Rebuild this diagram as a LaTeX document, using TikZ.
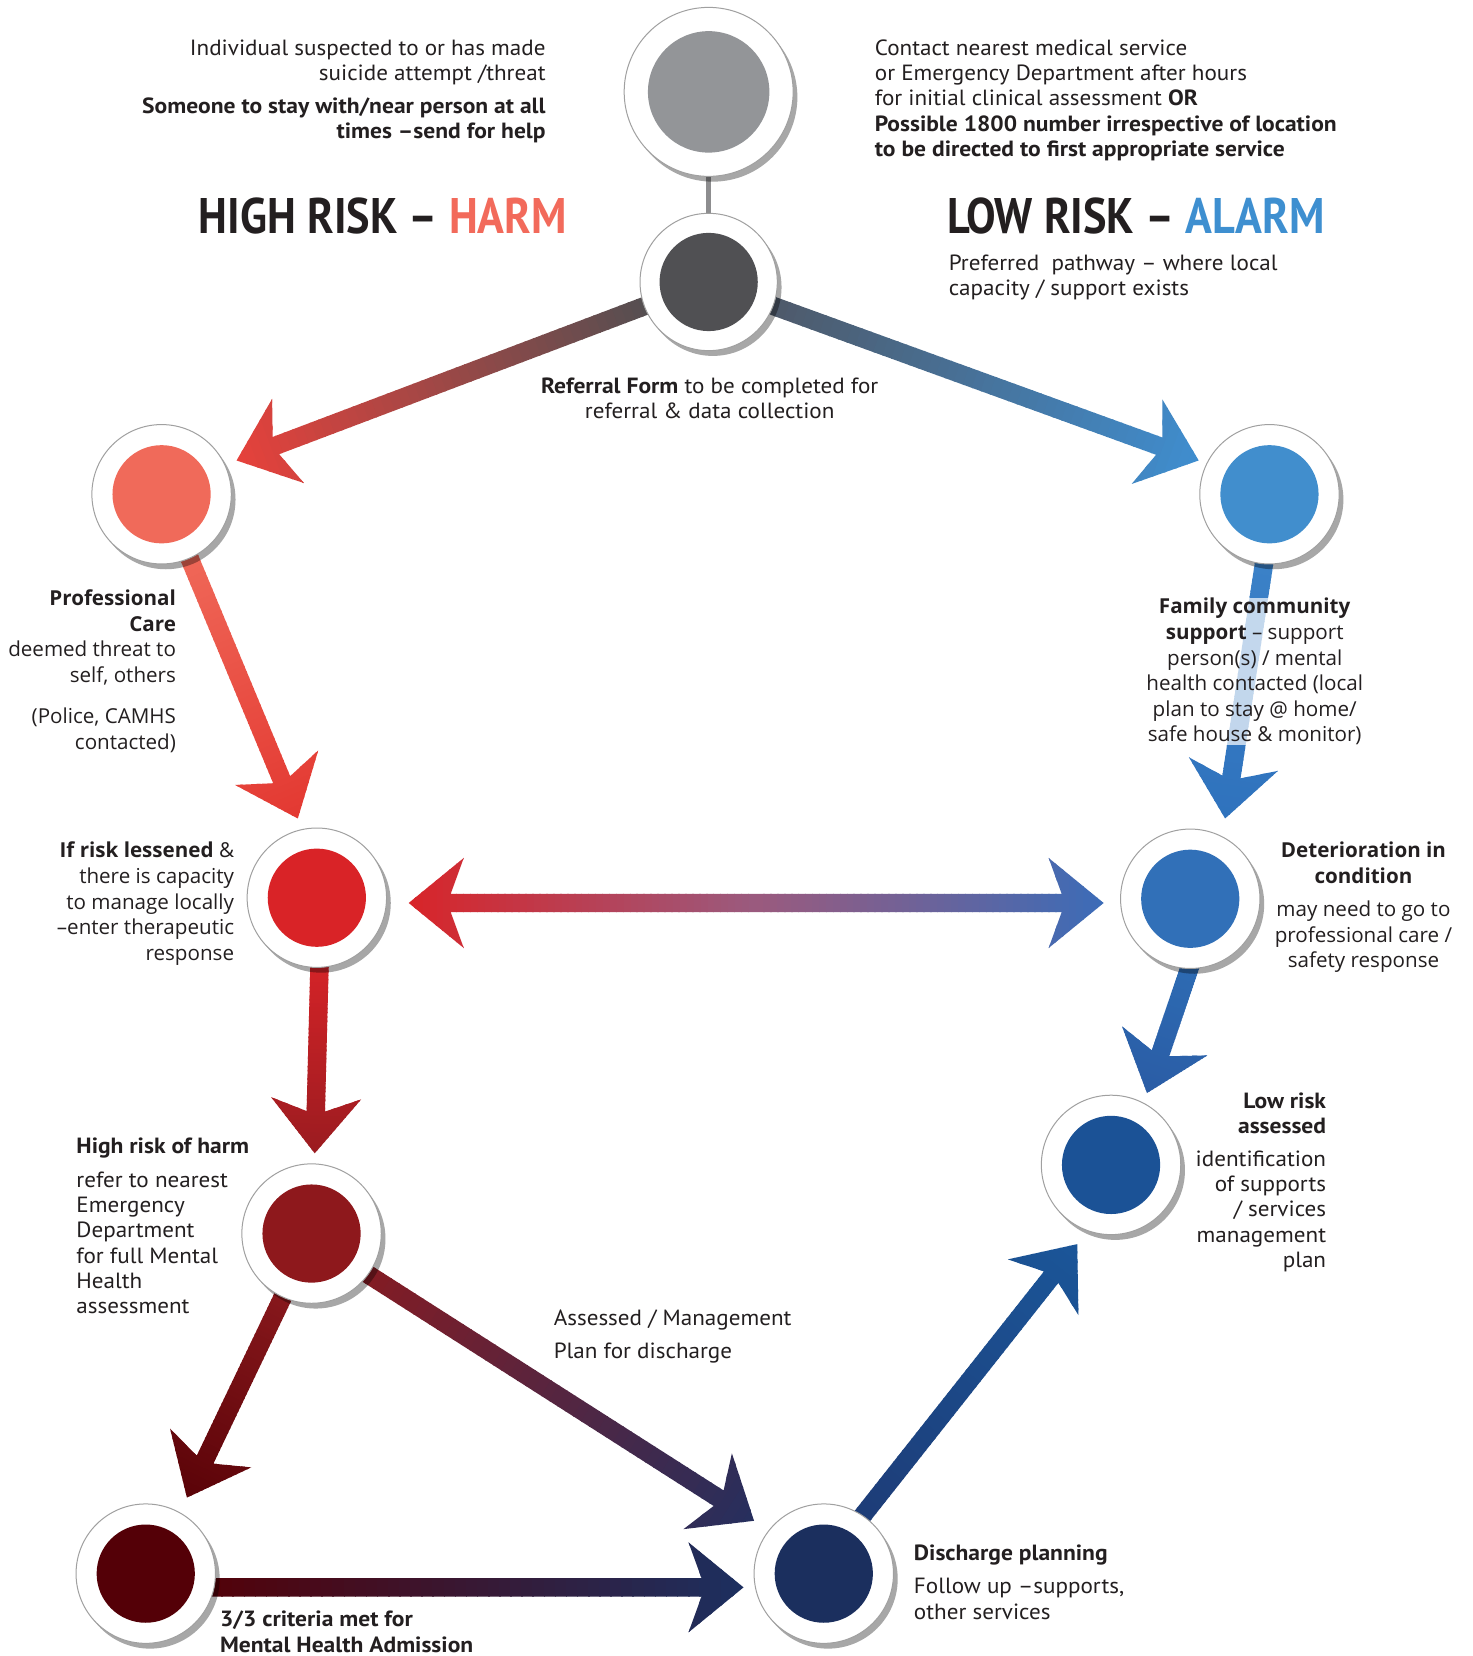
\documentclass[tikz,border=0pt]{standalone}
\usepackage{fontspec}
\setmainfont{PT Sans}
\newfontfamily\myr{PT Sans}[FakeStretch=1.05, BoldFeatures={FakeStretch=1.07}]
\newfontfamily\hdf{PT Sans Bold}[FakeStretch=0.885]
\newfontfamily\wde{Open Sans}
\usetikzlibrary{calc}
\pgfdeclarelayer{bg}
\pgfsetlayers{bg,main}

\definecolor{txt}{HTML}{231F20}
\definecolor{harm}{HTML}{F26A5B}
\definecolor{alarm}{HTML}{3E8FD0}
\definecolor{cTop}{HTML}{939598}
\definecolor{cDark}{HTML}{505053}
\definecolor{cProf}{HTML}{F06A5A}
\definecolor{cFam}{HTML}{418ECD}
\definecolor{cRisk}{HTML}{D92327}
\definecolor{cDet}{HTML}{3170B8}
\definecolor{cHigh}{HTML}{8E181C}
\definecolor{cLow}{HTML}{1B5296}
\definecolor{cAdm}{HTML}{540007}
\definecolor{cDis}{HTML}{1B2F5E}
\definecolor{shad}{HTML}{A7A7A7}
\definecolor{ringe}{HTML}{A0A0A0}
\definecolor{conn}{HTML}{8D8D8F}
% arrow colours
\definecolor{aOneA}{HTML}{4F4F52}\definecolor{aOneB}{HTML}{E8413B}
\definecolor{aTwoA}{HTML}{4F5765}\definecolor{aTwoB}{HTML}{3F8ED0}
\definecolor{aThrA}{HTML}{F06A5A}\definecolor{aThrB}{HTML}{E33831}
\definecolor{aFouA}{HTML}{3C82C8}\definecolor{aFouB}{HTML}{2F72BD}
\definecolor{aFivL}{HTML}{D92428}\definecolor{aFivM}{HTML}{9A5A7E}\definecolor{aFivR}{HTML}{3A6CB8}
\definecolor{aSixA}{HTML}{2E6EB6}\definecolor{aSixB}{HTML}{2A5CA5}
\definecolor{aSevA}{HTML}{D92428}\definecolor{aSevB}{HTML}{9A1B20}
\definecolor{aEigA}{HTML}{8A191D}\definecolor{aEigB}{HTML}{5A0308}
\definecolor{aNinA}{HTML}{861B22}\definecolor{aNinB}{HTML}{252F5E}
\definecolor{aTenA}{HTML}{540007}\definecolor{aTenB}{HTML}{1C3060}
\definecolor{aEleA}{HTML}{1D3B76}\definecolor{aEleB}{HTML}{1B5699}

% arrow geometry (pt)
\def\aw{4.6}   % half shaft width
\def\an{21}    % notch distance from tip
\def\al{27.5}  % barb distance from tip
\def\aW{22.5}  % half head width

% gradient arrow from coordinate #1 to tip coordinate #2, colour #3 -> #4
\newcommand\garrow[4]{%
  \pgfpointdiff{\pgfpointanchor{#1}{center}}{\pgfpointanchor{#2}{center}}%
  \pgfgetlastxy\arrdx\arrdy
  \pgfmathsetmacro\arrang{atan2(\arrdy,\arrdx)}%
  \pgfmathsetmacro\arrlen{veclen(\arrdx,\arrdy)}%
  \begin{scope}[shift={(#1)}, rotate=\arrang, x=1pt, y=1pt]
    \clip (0,-\aw) -- ({\arrlen-\an},-\aw) -- ({\arrlen-\al},-\aW) -- (\arrlen,0)
          -- ({\arrlen-\al},\aW) -- ({\arrlen-\an},\aw) -- (0,\aw) -- cycle;
    \foreach \i in {0,...,49} {%
      \pgfmathtruncatemacro\arrpc{2*\i}%
      \fill[#4!\arrpc!#3] ({\arrlen*\i/50},{-\aW-1}) rectangle ({\arrlen*(\i+1)/50+0.8},{\aW+1});
    }
  \end{scope}
}

% ring node: name, x, y, outer radius, inner radius, colour
\newcommand\ringnode[6]{%
  \fill[shad, blend mode=multiply] (#2+4,#3+5) circle[radius=#4];
  \node[circle, inner sep=0pt, minimum size=2*#4*0.528pt, fill=white, draw=ringe, line width=0.5pt] (#1) at (#2,#3) {};
  \fill[#6] (#1.center) circle[radius=#5];
}

\begin{document}
\begin{tikzpicture}[x=0.528pt, y=-0.528pt,
  mtxt/.style={font=\myr\fontsize{11}{12.67}\selectfont, text=txt, inner sep=0pt},
  wtxt/.style={font=\wde\fontsize{10.3}{12.8}\selectfont, text=txt, inner sep=0pt},
  head/.style={font=\hdf\fontsize{25}{30}\selectfont, text=txt, inner sep=0pt}]
\useasboundingbox (0,0) rectangle (1394,1568);
\clip (0,0) rectangle (1394,1568);

% ---- circles
\ringnode{top}{671}{87}{80}{57.5}{cTop}
\ringnode{dark}{671}{267}{65}{46.5}{cDark}
\ringnode{prof}{153}{468}{66}{46.5}{cProf}
\ringnode{fam}{1202}{468}{66}{46.5}{cFam}
\ringnode{risk}{300}{850}{66}{46.5}{cRisk}
\ringnode{det}{1127}{851}{66}{46.5}{cDet}
\ringnode{high}{295}{1168}{66}{46.5}{cHigh}
\ringnode{low}{1052}{1103}{66}{46.5}{cLow}
\ringnode{adm}{138}{1490}{66}{46.5}{cAdm}
\ringnode{dis}{780}{1490}{66}{46.5}{cDis}

% ---- arrow end points
\coordinate (a1s) at ($(dark)+(-40,15)$);  \coordinate (a1t) at ($(prof)+(71,-32)$);
\coordinate (a2s) at ($(dark)+(40,15)$);   \coordinate (a2t) at ($(fam)+(-67,-32)$);
\coordinate (a3s) at ($(prof)+(20,45)$);   \coordinate (a3t) at ($(risk)+(-18,-75)$);
\coordinate (a4s) at ($(fam)+(-2,45)$);    \coordinate (a4t) at ($(det)+(33,-76)$);
\coordinate (a5l) at ($(risk)+(87,5)$);    \coordinate (a5r) at ($(det)+(-82,4)$);
\coordinate (a5m) at ($(a5l)!0.5!(a5r)$);
\coordinate (a6s) at ($(det)+(8,40)$);     \coordinate (a6t) at ($(low)+(34,-68)$);
\coordinate (a7s) at ($(risk)+(3,45)$);    \coordinate (a7t) at ($(high)+(3,-76)$);
\coordinate (a8s) at ($(high)+(-20,45)$);  \coordinate (a8t) at ($(adm)+(39,-72)$);
\coordinate (a9s) at ($(high)+(40,30)$);   \coordinate (a9t) at ($(dis)+(-66,-50)$);
\coordinate (a10s) at ($(adm)+(40,13)$);   \coordinate (a10t) at ($(dis)+(-76,13)$);
\coordinate (a11s) at ($(dis)+(25,-40)$);  \coordinate (a11t) at ($(low)+(-32,75)$);

\begin{pgfonlayer}{bg}
  \fill[white] (0,0) rectangle (1394,1568);
  \draw[conn, line width=2.6pt] (top) -- (dark);
  \garrow{a1s}{a1t}{aOneA}{aOneB}
  \garrow{a2s}{a2t}{aTwoA}{aTwoB}
  \garrow{a3s}{a3t}{aThrA}{aThrB}
  \garrow{a4s}{a4t}{aFouA}{aFouB}
  \garrow{a5m}{a5l}{aFivM}{aFivL}
  \garrow{a5m}{a5r}{aFivM}{aFivR}
  \garrow{a6s}{a6t}{aSixA}{aSixB}
  \garrow{a7s}{a7t}{aSevA}{aSevB}
  \garrow{a8s}{a8t}{aEigA}{aEigB}
  \garrow{a9s}{a9t}{aNinA}{aNinB}
  \garrow{a10s}{a10t}{aTenA}{aTenB}
  \garrow{a11s}{a11t}{aEleA}{aEleB}
\end{pgfonlayer}

% ---- texts
\node[mtxt, align=right, anchor=north east] (t1) at (517,37)
  {Individual suspected to or has made\\suicide attempt /threat\\[3.7pt]
   \textbf{Someone to stay with/near person at all}\\\textbf{times –send for help}};
\node[mtxt, align=left, anchor=north west] (t2) at (828,37)
  {Contact nearest medical service\\or Emergency Department after hours\\
   for initial clinical assessment \textbf{OR}\\
   \textbf{Possible 1800 number irrespective of location}\\
   \textbf{to be directed to first appropriate service}};
\node[head, anchor=base east] (h1) at (537,221) {HIGH RISK – \textcolor{harm}{HARM}};
\node[head, anchor=base west] (h2) at (897,221) {LOW RISK – \textcolor{alarm}{ALARM}};
\node[mtxt, align=left, anchor=north west] (t3) at (898,241)
  {Preferred\ \ pathway – where local\\capacity / support exists};
\node[mtxt, align=center, anchor=north] (t4) at (672,357)
  {\textbf{Referral Form} to be completed for\\referral \& data collection};
\node[wtxt, align=right, anchor=north east] (t5) at (167,558)
  {\textbf{Professional}\\\textbf{Care}\\deemed threat to\\self, others\\[7.9pt](Police, CAMHS\\contacted)};
\node[wtxt, align=right, anchor=north east] (t6) at (222,797)
  {\textbf{If risk lessened} \&\\there is capacity\\to manage locally\\–enter therapeutic\\response};
\node[wtxt, align=center, anchor=north, fill=white, fill opacity=0.7, text opacity=1] (t7) at (1188,566)
  {\textbf{Family community}\\\textbf{support} – support\\person(s) / mental\\health contacted (local\\plan to stay @ home/\\safe house \& monitor)};
\node[wtxt, align=center, anchor=north] (t8) at (1291,797)
  {\textbf{Deterioration in}\\\textbf{condition}\\[3.7pt]may need to go to\\professional care /\\safety response};
\node[mtxt, align=left, anchor=north west] (t9) at (72,1077)
  {\textbf{High risk of harm}\\[4.2pt]refer to nearest\\Emergency\\Department\\for full Mental\\Health\\assessment};
\node[mtxt, align=right, anchor=north east] (t10) at (1256,1034)
  {\textbf{Low risk}\\\textbf{assessed}\\[3.7pt]identification\\of supports\\/ services\\management\\plan};
\node[mtxt, align=left, anchor=north west] (t11) at (524,1240)
  {Assessed / Management\\[3.7pt]Plan for discharge};
\node[mtxt, align=left, anchor=north west] (t12) at (865,1462)
  {\textbf{Discharge planning}\\[4.2pt]Follow up –supports,\\other services};
\node[mtxt, align=left, anchor=north west] (t13) at (208,1525)
  {\textbf{3/3 criteria met for}\\\textbf{Mental Health Admission}};
\end{tikzpicture}
\end{document}
